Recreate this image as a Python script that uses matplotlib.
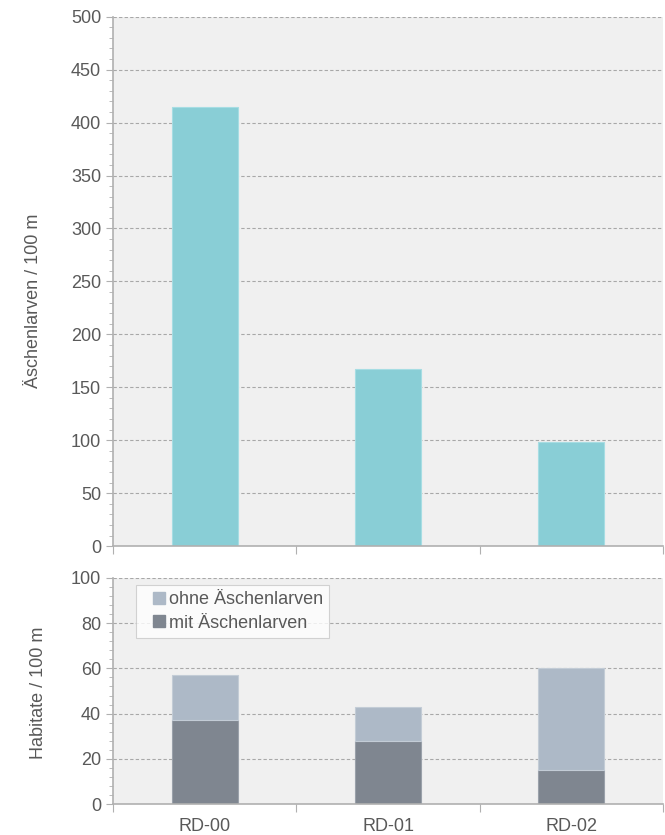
import matplotlib
matplotlib.use("Agg")
import matplotlib.pyplot as plt
from matplotlib.ticker import MultipleLocator, FixedLocator, NullFormatter
from matplotlib.lines import Line2D

plt.rcParams['font.family'] = ['Liberation Sans', 'DejaVu Sans']

sites = ["RD-00", "RD-01", "RD-02"]
larvae_per_100m = [415, 167, 98]
habitats_with = [37, 28, 15]
habitats_without = [20, 15, 45]

teal = "#89ced6"
light = "#adb9c7"
dark = "#7f8690"
text_col = "#595959"
axis_col = "#b0b0b0"
bg = "#f0f0f0"
fs = 13

fig = plt.figure(figsize=(6.65, 8.35), dpi=100)
ax1 = fig.add_axes([0.170, 0.346, 0.827, 0.634])
ax2 = fig.add_axes([0.170, 0.0371, 0.827, 0.2707])

x = list(range(len(sites)))
width = 0.36


def style(ax, ymax, major, minor):
    ax.set_facecolor(bg)
    ax.set_xlim(-0.5, len(sites) - 0.5)
    ax.set_ylim(0, ymax)
    ax.yaxis.set_major_locator(MultipleLocator(major))
    ax.yaxis.set_minor_locator(MultipleLocator(minor))
    ax.grid(axis="y", which="major", color="#a8a8a8", linestyle=(0, (3, 2)), linewidth=0.8)
    ax.set_axisbelow(True)
    for s in ["top", "right"]:
        ax.spines[s].set_visible(False)
    for s in ["left", "bottom"]:
        ax.spines[s].set_color(axis_col)
        ax.spines[s].set_linewidth(1.2)
    ax.tick_params(axis="y", which="major", direction="out", length=5, color=axis_col,
                   labelsize=fs, labelcolor=text_col)
    ax.tick_params(axis="y", which="minor", direction="out", length=3, color=axis_col)
    # category boundaries as major x ticks, labels on minor ticks at bar centres
    ax.xaxis.set_major_locator(FixedLocator([-0.5, 0.5, 1.5, 2.5]))
    ax.xaxis.set_major_formatter(NullFormatter())
    ax.xaxis.set_minor_locator(FixedLocator(x))
    ax.tick_params(axis="x", which="major", direction="out", length=6, color=axis_col)
    ax.tick_params(axis="x", which="minor", length=0, labelsize=fs, labelcolor=text_col, pad=10)


style(ax1, 500, 50, 10)
ax1.bar(x, larvae_per_100m, width=width, color=teal, edgecolor="#a6dde3", linewidth=0.8)
ax1.xaxis.set_minor_formatter(NullFormatter())
ax1.set_ylabel("Äschenlarven / 100 m", color=text_col, fontsize=fs)
ax1.yaxis.set_label_coords(-0.129, 0.463)

style(ax2, 100, 20, 4)
ax2.bar(x, habitats_with, width=width, color=dark, edgecolor="#9aa1aa", linewidth=0.8)
ax2.bar(x, habitats_without, width=width, bottom=habitats_with, color=light,
        edgecolor="#c3ccd6", linewidth=0.8)
ax2.set_xticks(x, sites, minor=True)
ax2.set_ylabel("Habitate / 100 m", color=text_col, fontsize=fs)
ax2.yaxis.set_label_coords(-0.121, 0.49)

handles = [
    Line2D([], [], marker="s", linestyle="none", markersize=8, color=light),
    Line2D([], [], marker="s", linestyle="none", markersize=8, color=dark),
]
leg = ax2.legend(handles, ["ohne Äschenlarven", "mit Äschenlarven"], loc="upper left",
                 bbox_to_anchor=(0.0418, 0.969), borderaxespad=0, frameon=True,
                 fancybox=False, fontsize=fs, handlelength=1.8, handletextpad=-0.33,
                 labelspacing=0.35, borderpad=0.35, labelcolor=text_col)
leg.get_frame().set_edgecolor("#c8c8c8")
leg.get_frame().set_facecolor("white")
leg.get_frame().set_linewidth(0.8)

fig.savefig("out.png", dpi=100)
